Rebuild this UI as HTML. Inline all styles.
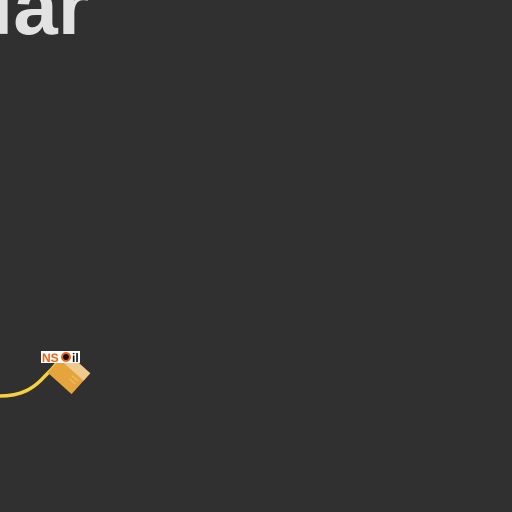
<!DOCTYPE html>
<html><head><meta charset="utf-8"><style>
html,body{margin:0;padding:0;background:#303030;width:512px;height:512px;overflow:hidden}
svg{position:absolute;left:0;top:0}
</style></head><body>
<svg width="512" height="512">
<text x="-9" y="34" font-family="Liberation Sans,sans-serif" font-weight="bold" font-size="80" fill="#e2e2e2">lar</text>
<path d="M0,396 C22,396 34,388 44,377 L52,369 L62,357" stroke="#f6d03e" stroke-width="3.5" fill="none"/>
<g transform="translate(69,373) rotate(42)">
<rect x="-16" y="-14" width="32" height="28" fill="#e5a43c"/>
<rect x="-16" y="-14" width="32" height="10" fill="#efca8e"/>
<line x1="4" y1="0" x2="12" y2="0" stroke="#f0c070" stroke-width="1"/>
<line x1="4" y1="4" x2="12" y2="4" stroke="#f0c070" stroke-width="1"/>
</g>
<g>
<rect x="41" y="351" width="39" height="12" fill="#fff"/>
<text x="42" y="362" font-family="Liberation Sans,sans-serif" font-weight="bold" font-size="12" fill="#f06010">NS</text>
<circle cx="66" cy="357" r="5" fill="#f06010"/><circle cx="66" cy="357" r="3" fill="#111"/>
<text x="72" y="362" font-family="Liberation Sans,sans-serif" font-weight="bold" font-size="12" fill="#111">il</text>
</g>
</svg>
</body></html>
